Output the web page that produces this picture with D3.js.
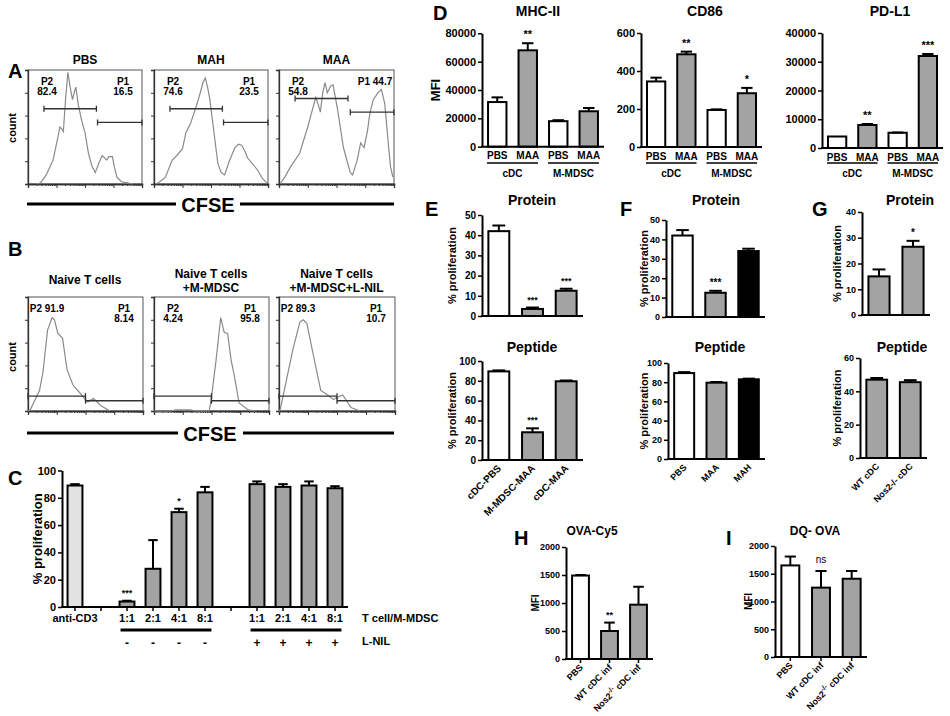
<!DOCTYPE html>
<html>
<head>
<meta charset="utf-8">
<script src="https://cdn.jsdelivr.net/npm/d3@7"></script>
<style>
    body { margin: 0; background: #fff; }
    svg { font-family: "Liberation Sans", Arial, sans-serif; font-weight: bold; }
</style>
</head>
<body>
<svg id="fig" width="950" height="716"></svg>
<script>
// ---- A: CFSE histograms (x = channel 0-100 over 4 log decades, y = count, % of box) ----
var histPBS = [[8,0],[11,1],[16,8],[22,21],[26,40],[28,50],[30,48],[31,46],[33,75],[35,98],[37,85],[39,74],[41,82],[42,85],[44,70],[47,56],[50,45],[53,27],[56,16],[59,10],[62,18],[65,25],[68,22],[69,21],[71,24],[74,24],[76,14],[78,6],[82,2],[87,1],[92,0]];
var histMAH = [[2,0],[5,2],[10,6],[16,21],[20,25],[25,31],[28,45],[32,53],[35,62],[38,71],[40,78],[43,89],[45,93],[47,85],[49,74],[52,50],[56,18],[59,10],[62,8],[66,20],[71,32],[74,35],[77,34],[80,28],[82,23],[87,17],[91,12],[95,5],[99,1]];
var histMAA = [[1,0],[5,6],[10,15],[18,27],[25,50],[29,65],[32,76],[34,70],[36,63],[38,80],[40,89],[42,80],[45,86],[47,87],[51,65],[56,32],[62,10],[64,8],[68,21],[71,36],[74,32],[77,47],[79,62],[82,74],[86,80],[89,83],[90,79],[92,70],[95,36],[97,15],[99,6]];
var titlesA = ["PBS", "MAH", "MAA"];
var p2LabA = [["P2", "82.4"], ["P2", "74.6"], ["P2", "54.8"]];
var p1LabA = [["P1", "16.5"], ["P1", "23.5"], ["P1 44.7"]];
var p2GateA = [[14, 60, 66], [14, 60, 66], [14, 60, 75]];   // from, to, height
var p1GateA = [[61, 100, 54], [61, 100, 54], [62, 100, 63]];

// ---- B ----
var histNaive = [[0,0],[2,1],[10,18],[13,34],[17,71],[21,82],[23,80],[26,68],[30,64],[34,36],[39,23],[45,16],[50,10],[52,8],[57,11],[63,5],[71,0]];
var histMDSC = [[0,0],[15,0],[19,1],[32,1],[36,0],[48,0],[50,12],[54,45],[58,82],[61,69],[64,68],[67,45],[70,30],[74,7],[82,1],[88,0]];
var histLNIL = [[0,0],[1,1],[7,30],[12,54],[18,78],[21,80],[24,77],[30,47],[36,18],[42,14],[47,10],[50,12],[55,14],[62,3],[70,0]];
var titlesB = [["Naive  T cells"], ["Naive T cells", "+M-MDSC"], ["Naive T cells", "+M-MDSC+L-NIL"]];
var p2LabB = [["P2 91.9"], ["P2", "4.24"], ["P2 89.3"]];
var p1LabB = [["P1", "8.14"], ["P1", "95.8"], ["P1", "10.7"]];
var p2GateB = [[0, 50, 13], [0, 50, 13], [0, 50, 13]];
var p1GateB = [[50, 100, 9], [50, 100, 9], [50, 100, 9]];

// ---- C ----
var cSlots = ["anti-CD3", "gap1", "1:1", "2:1", "4:1", "8:1", "gap2", "1:1+", "2:1+", "4:1+", "8:1+"];
var cMean = [89, null, 4, 28, 69.5, 84, null, 90, 88, 89, 87];
var cSem = [1, null, 0.6, 21, 2.5, 4, null, 2, 2, 3, 1.5];
var cStars = ["", "", "***", "", "*", "", "", "", "", "", ""];
var cLnil = ["", "", "-", "-", "-", "-", "", "+", "+", "+", "+"];

// ---- D ----
var dBars = ["PBS", "MAA", "PBS", "MAA"];
var dGroups = ["cDC", "M-MDSC"];
var mhcMean = [31500, 68000, 18000, 25000], mhcSem = [3300, 5000, 700, 2300], mhcStars = ["", "**", "", ""];
var cd86Mean = [345, 488, 195, 283], cd86Sem = [20, 14, 3, 28], cd86Stars = ["", "**", "", "*"];
var pdl1Mean = [4000, 8000, 5300, 32000], pdl1Sem = [0, 350, 100, 700], pdl1Stars = ["", "**", "", "***"];

// ---- E / F / G ----
var eCats = ["cDC-PBS", "M-MDSC-MAA", "cDC-MAA"];
var eProt = [42, 3.5, 12.5], eProtSem = [2.8, 0.7, 1], eProtStars = ["", "***", "***"];
var ePep = [89.5, 28, 79.5], ePepSem = [1, 4, 0.8], ePepStars = ["", "***", ""];
var fCats = ["PBS", "MAA", "MAH"];
var fProt = [42, 12.5, 34], fProtSem = [2.8, 1, 1.2], fProtStars = ["", "***", ""];
var fPep = [89.5, 79.5, 83], fPepSem = [1, 0.7, 0.7];
var gCats = ["WT cDC", "Nos2-/- cDC"];
var gProt = [15, 26.5], gProtSem = [2.7, 2.3], gProtStars = ["", "*"];
var gPep = [47, 45.5], gPepSem = [1, 1.2];

// ---- H / I ----
var hiCats = ["PBS", "WT cDC inf", "Nos2|-/-| cDC inf"];
var hMean = [1490, 500, 970], hSem = [10, 150, 320], hStars = ["", "**", ""];
var iMean = [1650, 1250, 1410], iSem = [160, 300, 140], iStars = ["", "ns", ""];

var WHITE = "#fff", GREY = "#a3a3a3", BLACK = "#000", LIGHT = "#e2e2e2";

var svg = d3.select("#fig");

function txt(x, y, s, size, opt) {
    opt = opt || {};
    var t = svg.append("text").attr("x", x).attr("y", y)
        .attr("font-size", size)
        .attr("text-anchor", opt.anchor || "middle")
        .attr("font-weight", opt.weight || "bold")
        .text(s);
    if (opt.rot) t.attr("transform", "rotate(" + opt.rot + "," + x + "," + y + ")");
    return t;
}

// histogram box
function hist(x0, x1, y0, data, p2g, p1g, p2l, p1l) {
    var x = d3.scaleLinear().domain([0, 100]).range([x0, x1]);
    var y = d3.scaleLinear().domain([0, 100]).range([y0, y0 - 114]);
    var g = svg.append("g");

    g.append("rect").attr("x", x0).attr("y", y(100)).attr("width", x1 - x0).attr("height", y0 - y(100))
        .attr("fill", "none").attr("stroke", "#555").attr("stroke-width", 1);

    var minor = [];
    for (var d = 0; d < 4; d++)
        for (var k = 2; k < 10; k++) minor.push(25 * (d + Math.log10(k)));
    g.append("g").attr("transform", "translate(0," + y0 + ")")
        .call(d3.axisBottom(x).tickValues(minor).tickSize(2).tickFormat(""));
    g.append("g").attr("transform", "translate(0," + y0 + ")")
        .call(d3.axisBottom(x).tickValues([0, 25, 50, 75, 100]).tickSize(4).tickFormat(""));
    g.append("g").attr("transform", "translate(" + x0 + ",0)")
        .call(d3.axisLeft(y).tickValues([0, 20, 40, 60, 80]).tickSize(3).tickFormat(""));
    g.selectAll(".domain").attr("stroke", "#333").attr("stroke-width", 1.3);
    g.selectAll(".tick line").attr("stroke", "#333");

    g.append("path").datum(data)
        .attr("d", d3.line().x(function (d) { return x(d[0]); }).y(function (d) { return y(d[1]); }))
        .attr("fill", "none").attr("stroke", "#8a8a8a").attr("stroke-width", 1.2);

    [p2g, p1g].forEach(function (gt) {
        var yy = y(gt[2]);
        g.append("line").attr("x1", x(gt[0])).attr("x2", x(gt[1])).attr("y1", yy).attr("y2", yy)
            .attr("stroke", "#333").attr("stroke-width", 1.3);
        [gt[0], gt[1]].forEach(function (v) {
            g.append("line").attr("x1", x(v)).attr("x2", x(v)).attr("y1", yy - 3).attr("y2", yy + 3)
                .attr("stroke", "#333").attr("stroke-width", 1.3);
        });
    });

    var top = y(100);
    p2l.forEach(function (s, i) { txt(x0 + 19, top + 15 + i * 10, s, 10); });
    p1l.forEach(function (s, i) { txt(x1 - 19, top + 15 + i * 10, s, 10); });
}

// bar chart in the GraphPad style
function bars(o) {
    var n = o.vals.length;
    var x = d3.scaleBand().domain(d3.range(n)).range([o.x0, o.x1]).paddingInner(o.pad).paddingOuter(o.pad / 2);
    var y = d3.scaleLinear().domain([0, o.max]).range([o.y0, o.y1]);
    var bw = x.bandwidth();
    var sw = o.sw || 2;
    var g = svg.append("g");
    var idx = d3.range(n).filter(function (i) { return o.vals[i] != null; });

    g.selectAll("rect").data(idx).join("rect")
        .attr("x", function (i) { return x(i) + sw / 2; })
        .attr("width", bw - sw)
        .attr("y", function (i) { return y(o.vals[i]); })
        .attr("height", function (i) { return o.y0 - y(o.vals[i]); })
        .attr("fill", function (i) { return o.fills[i]; })
        .attr("stroke", "#000").attr("stroke-width", sw);

    idx.forEach(function (i) {
        var cx = x(i) + bw / 2, e = o.sem[i];
        var yt = y(o.vals[i] + e);
        if (e > 0) {
            g.append("line").attr("x1", cx).attr("x2", cx).attr("y1", y(o.vals[i])).attr("y2", yt)
                .attr("stroke", "#000").attr("stroke-width", sw);
            g.append("line").attr("x1", cx - bw * 0.28).attr("x2", cx + bw * 0.28).attr("y1", yt).attr("y2", yt)
                .attr("stroke", "#000").attr("stroke-width", sw);
        }
        if (o.stars && o.stars[i]) {
            var isNs = o.stars[i] === "ns";
            txt(cx, yt - (isNs ? 8 : 5), o.stars[i], isNs ? 10 : (o.starSize || 10), { weight: isNs ? "normal" : "bold" });
        }
    });

    var ya = g.append("g").attr("transform", "translate(" + o.x0 + ",0)")
        .call(d3.axisLeft(y).tickValues(o.ticks).tickFormat(d3.format("d"))
            .tickSize(4).tickSizeOuter(0).tickPadding(2));
    ya.attr("font-family", null).attr("font-size", o.fs);
    ya.selectAll("text").attr("font-weight", "bold");
    ya.select(".domain").attr("stroke-width", sw);
    ya.selectAll(".tick line").attr("stroke-width", sw * 0.75);

    g.append("line").attr("x1", o.x0 - sw / 2).attr("x2", o.x1).attr("y1", o.y0).attr("y2", o.y0)
        .attr("stroke", "#000").attr("stroke-width", sw);
    if (o.xticks) {
        d3.range(n).forEach(function (i) {
            var cx = x(i) + bw / 2;
            g.append("line").attr("x1", cx).attr("x2", cx).attr("y1", o.y0).attr("y2", o.y0 + 4)
                .attr("stroke", "#000").attr("stroke-width", 1.5);
        });
    }

    if (o.title) txt(o.titleX || (o.x0 + o.x1) / 2, o.titleY, o.title, o.titleSize || 14);
    if (o.ylabel) txt(o.ylabelX, (o.y0 + o.y1) / 2, o.ylabel, o.ylabelSize || 11, { rot: -90 });

    if (o.labels && o.rotLabels) {
        o.labels.forEach(function (s, i) {
            var cx = x(i) + bw / 2 + 3, ly = o.y0 + 9;
            var t = svg.append("text").attr("x", cx).attr("y", ly).attr("font-size", o.labelSize || 10)
                .attr("text-anchor", "end").attr("font-weight", "bold")
                .attr("transform", "rotate(-45," + cx + "," + ly + ")");
            var parts = s.split("|");
            parts.forEach(function (p, k) {
                var ts = t.append("tspan").text(p);
                if (k === 1) ts.attr("font-size", 7).attr("dy", -4);
                if (k === 2) ts.attr("dy", 4);
            });
        });
    } else if (o.labels) {
        o.labels.forEach(function (s, i) {
            if (s) txt(x(i) + bw / 2, o.y0 + o.labelDy, s, o.labelSize || 11);
        });
    }
    return { x: x, y: y, bw: bw };
}

// ================= A =================
txt(8, 78, "A", 20, { anchor: "start" });
var boxA = [[28, 142], [154, 268], [279, 394]];
var histA = [histPBS, histMAH, histMAA];
boxA.forEach(function (b, i) {
    txt((b[0] + b[1]) / 2, 64, titlesA[i], 12);
    hist(b[0], b[1], 184, histA[i], p2GateA[i], p1GateA[i], p2LabA[i], p1LabA[i]);
});
txt(16, 128, "count", 11, { rot: -90 });
svg.append("line").attr("x1", 27).attr("x2", 176).attr("y1", 204).attr("y2", 204).attr("stroke", "#000").attr("stroke-width", 3);
svg.append("line").attr("x1", 240).attr("x2", 394).attr("y1", 204).attr("y2", 204).attr("stroke", "#000").attr("stroke-width", 3);
txt(208, 212, "CFSE", 20);

// ================= B =================
txt(8, 256, "B", 20, { anchor: "start" });
var histB = [histNaive, histMDSC, histLNIL];
boxA.forEach(function (b, i) {
    var lines = titlesB[i];
    var cx = (b[0] + b[1]) / 2;
    if (lines.length === 1) txt(cx, 284, lines[0], 12);
    else lines.forEach(function (s, k) { txt(cx, 278 + k * 14, s, 12); });
    hist(b[0], b[1] + 1, 411, histB[i], p2GateB[i], p1GateB[i], p2LabB[i], p1LabB[i]);
});
txt(16, 357, "count", 11, { rot: -90 });
svg.append("line").attr("x1", 27).attr("x2", 178).attr("y1", 433).attr("y2", 433).attr("stroke", "#000").attr("stroke-width", 3);
svg.append("line").attr("x1", 243).attr("x2", 394).attr("y1", 433).attr("y2", 433).attr("stroke", "#000").attr("stroke-width", 3);
txt(210, 441, "CFSE", 20);

// ================= C =================
txt(8, 485, "C", 20, { anchor: "start" });
var cFills = cSlots.map(function (s, i) { return i === 0 ? LIGHT : GREY; });
var cLabels = cSlots.map(function (s) { return s.indexOf("gap") === 0 ? "" : s.replace("+", ""); });
var cc = bars({
    x0: 62, x1: 348, y0: 607, y1: 470.5, max: 100, ticks: [0, 20, 40, 60, 80, 100], fs: 11,
    vals: cMean, sem: cSem, stars: cStars, fills: cFills, pad: 0.35, sw: 2, starSize: 9,
    labels: cLabels, labelDy: 15, labelSize: 11, xticks: true,
    ylabel: "% proliferation", ylabelX: 42, ylabelSize: 13
});
[[2, 5], [7, 10]].forEach(function (r) {
    svg.append("line").attr("x1", cc.x(r[0]) + 2).attr("x2", cc.x(r[1]) + cc.bw - 2)
        .attr("y1", 630).attr("y2", 630).attr("stroke", "#000").attr("stroke-width", 3);
});
cLnil.forEach(function (s, i) { if (s) txt(cc.x(i) + cc.bw / 2, 647, s, 12); });
txt(362, 622, "T cell/M-MDSC", 11, { anchor: "start" });
txt(362, 645, "L-NIL", 11, { anchor: "start" });

// ================= D =================
txt(433, 20, "D", 20, { anchor: "start" });
var dFills = [WHITE, GREY, WHITE, GREY];
function dPanel(x0, x1, y0, y1, max, ticks, mean, sem, stars, title, titleX) {
    var r = bars({
        x0: x0, x1: x1, y0: y0, y1: y1, max: max, ticks: ticks, fs: 11,
        vals: mean, sem: sem, stars: stars, fills: dFills, pad: 0.33, sw: 2, starSize: 11,
        labels: dBars, labelDy: 12.5, labelSize: 10,
        title: title, titleX: titleX, titleY: 16
    });
    dGroups.forEach(function (s, k) {
        var a = r.x(k * 2), b = r.x(k * 2 + 1) + r.bw;
        svg.append("line").attr("x1", a).attr("x2", b).attr("y1", 163).attr("y2", 163)
            .attr("stroke", "#000").attr("stroke-width", 1.5);
        txt((a + b) / 2, 177, s, 10);
    });
}
dPanel(482, 604, 146.7, 33.3, 80000, [0, 20000, 40000, 60000, 80000], mhcMean, mhcSem, mhcStars, "MHC-II", 538);
dPanel(641, 762, 147, 33, 600, [0, 200, 400, 600], cd86Mean, cd86Sem, cd86Stars, "CD86", 705);
dPanel(822, 943, 148, 33, 40000, [0, 10000, 20000, 30000, 40000], pdl1Mean, pdl1Sem, pdl1Stars, "PD-L1", 890);
txt(440, 90, "MFI", 13, { rot: -90 });

// ================= E =================
txt(425, 216, "E", 20, { anchor: "start" });
bars({
    x0: 482, x1: 583, y0: 316, y1: 215, max: 50, ticks: [0, 10, 20, 30, 40, 50], fs: 10,
    vals: eProt, sem: eProtSem, stars: eProtStars, fills: [WHITE, GREY, GREY], pad: 0.32, sw: 2, starSize: 9,
    title: "Protein", titleY: 205, titleX: 532, ylabel: "% proliferation", ylabelX: 456
});
bars({
    x0: 482, x1: 583, y0: 460, y1: 361, max: 100, ticks: [0, 20, 40, 60, 80, 100], fs: 10,
    vals: ePep, sem: ePepSem, stars: ePepStars, fills: [WHITE, GREY, GREY], pad: 0.32, sw: 2, starSize: 9,
    title: "Peptide", titleY: 352, titleX: 532, ylabel: "% proliferation", ylabelX: 456,
    labels: eCats, rotLabels: true, labelSize: 10
});

// ================= F =================
txt(620, 216, "F", 20, { anchor: "start" });
bars({
    x0: 666, x1: 765, y0: 317, y1: 220, max: 50, ticks: [0, 10, 20, 30, 40, 50], fs: 9,
    vals: fProt, sem: fProtSem, stars: fProtStars, fills: [WHITE, GREY, BLACK], pad: 0.32, sw: 2, starSize: 10,
    title: "Protein", titleY: 205, titleX: 716, ylabel: "% proliferation", ylabelX: 648
});
bars({
    x0: 668, x1: 765, y0: 459, y1: 363, max: 100, ticks: [0, 20, 40, 60, 80, 100], fs: 9,
    vals: fPep, sem: fPepSem, fills: [WHITE, GREY, BLACK], pad: 0.32, sw: 2,
    title: "Peptide", titleY: 352, titleX: 720, ylabel: "% proliferation", ylabelX: 648,
    labels: fCats, rotLabels: true, labelSize: 9
});

// ================= G =================
txt(812, 216, "G", 20, { anchor: "start" });
bars({
    x0: 862, x1: 930, y0: 315, y1: 212, max: 40, ticks: [0, 10, 20, 30, 40], fs: 9,
    vals: gProt, sem: gProtSem, stars: gProtStars, fills: [GREY, GREY], pad: 0.32, sw: 2, starSize: 10,
    title: "Protein", titleY: 205, titleX: 910, ylabel: "% proliferation", ylabelX: 841
});
bars({
    x0: 860, x1: 927, y0: 458, y1: 358, max: 60, ticks: [0, 20, 40, 60], fs: 9,
    vals: gPep, sem: gPepSem, fills: [GREY, GREY], pad: 0.32, sw: 2,
    title: "Peptide", titleY: 352, titleX: 902, ylabel: "% proliferation", ylabelX: 841,
    labels: gCats, rotLabels: true, labelSize: 9
});

// ================= H =================
txt(514, 545, "H", 20, { anchor: "start" });
bars({
    x0: 566, x1: 653, y0: 659, y1: 547, max: 2000, ticks: [0, 500, 1000, 1500, 2000], fs: 9,
    vals: hMean, sem: hSem, stars: hStars, fills: [WHITE, GREY, GREY], pad: 0.35, sw: 2, starSize: 9,
    title: "OVA-Cy5", titleY: 535, titleX: 592, titleSize: 12, ylabel: "MFI", ylabelX: 539, ylabelSize: 10,
    labels: hiCats, rotLabels: true, labelSize: 9, xticks: true
});

// ================= I =================
txt(726, 545, "I", 20, { anchor: "start" });
bars({
    x0: 775, x1: 867, y0: 657, y1: 546, max: 2000, ticks: [0, 500, 1000, 1500, 2000], fs: 9,
    vals: iMean, sem: iSem, stars: iStars, fills: [WHITE, GREY, GREY], pad: 0.35, sw: 2,
    title: "DQ- OVA", titleY: 535, titleX: 815, titleSize: 12, ylabel: "MFI", ylabelX: 752, ylabelSize: 10,
    labels: hiCats, rotLabels: true, labelSize: 9, xticks: true
});
</script>
</body>
</html>
